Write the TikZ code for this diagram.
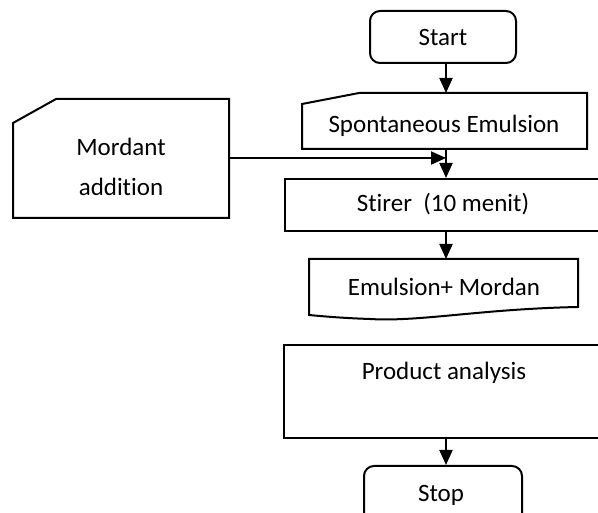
\documentclass[tikz,border=0pt]{standalone}
\usepackage{fontspec}
\setmainfont{Carlito}[Ligatures=NoCommon]
\usetikzlibrary{arrows.meta}
\begin{document}
\begin{tikzpicture}[x=1pt,y=-1pt,
  shp/.style={draw=black,line width=2pt},
  txt/.style={font=\fontsize{25}{40}\selectfont,inner sep=0pt,align=center},
  arr/.style={line width=2pt,-{Triangle[length=15pt,width=13pt]}}]
\useasboundingbox (0,0) rectangle (598,513);
% Start
\node[shp,rounded corners=10pt,minimum width=146pt,minimum height=52pt,inner sep=0pt] (start) at (443,37) {};
\node[txt] (starttxt) at (443,37) {Start};
% Spontaneous emulsion (manual input)
\coordinate (sp1) at (302,104);
\coordinate (sp2) at (359,93);
\coordinate (sp3) at (587,93);
\coordinate (sp4) at (587,149);
\coordinate (sp5) at (302,149);
\draw[shp,line join=miter] (sp1) -- (sp2) -- (sp3) -- (sp4) -- (sp5) -- cycle;
\node[txt] (spon) at (444,126) {Spontaneous Emulsion};
\coordinate (spbot) at (446,149);
% Mordant addition
\coordinate (m1) at (13,123);
\coordinate (m2) at (56,99);
\coordinate (m3) at (229,99);
\coordinate (m4) at (229,218);
\coordinate (m5) at (13,218);
\draw[shp] (m1) -- (m2) -- (m3) -- (m4) -- (m5) -- cycle;
\node[txt] (mord) at (121,167) {Mordant\\addition};
\coordinate (mright) at (229,158);
\coordinate (mend) at (446,158);
% Stirer
\node[shp,minimum width=330pt,minimum height=52pt,inner sep=0pt,anchor=north west] (stir) at (284,178) {};
\node[txt] (stirtxt) at (443,204) {Stirer\ \ (10 menit)};
% Emulsion + Mordan (document)
\coordinate (e1) at (309,259);
\coordinate (e2) at (578,259);
\coordinate (e3) at (578,307);
\coordinate (e4) at (309,315);
\draw[shp] (e1) -- (e2) -- (e3) .. controls (480,309) and (420,322) .. (370,319) .. controls (340,318) and (320,316) .. (e4) -- cycle;
\node[txt] (emul) at (444,287) {Emulsion+ Mordan};
% Product analysis
\node[shp,minimum width=330pt,minimum height=93pt,inner sep=0pt,anchor=north west] (prod) at (283,344) {};
\node[txt] (prodtxt) at (444,373) {Product analysis};
% Stop
\node[shp,rounded corners=10pt,minimum width=158pt,minimum height=62pt,inner sep=0pt,anchor=north west] (stop) at (363,465) {};
\node[txt] (stoptxt) at (441,495) {Stop};
% connectors
\draw[arr] (start.south -| spbot) -- (sp3 -| spbot);
\draw[arr] (spbot) -- (stir.north -| spbot);
\draw[arr] (mright) -- (mend);
\draw[arr] (stir.south -| spbot) -- (e1 -| spbot);
\draw[arr] (prod.south -| spbot) -- (stop.north -| spbot);
\end{tikzpicture}
\end{document}
